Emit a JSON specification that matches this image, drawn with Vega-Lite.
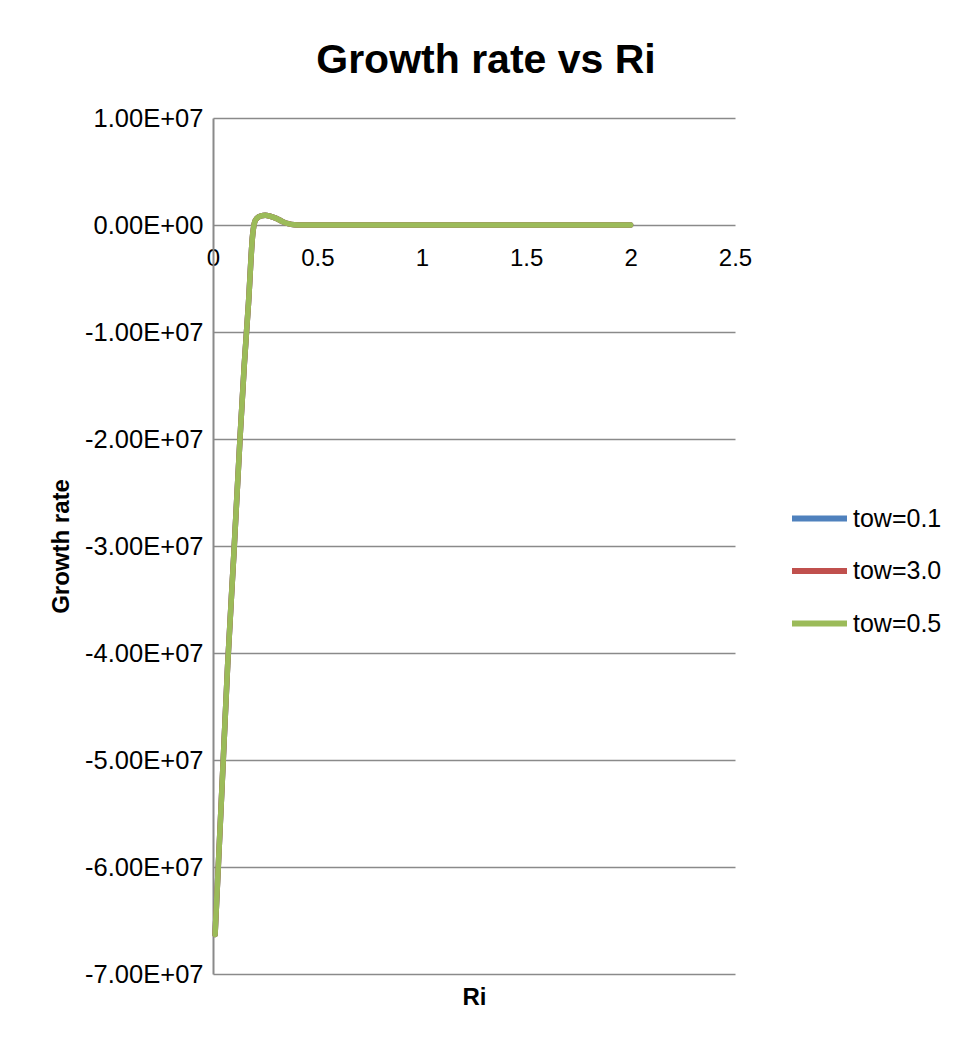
{
  "$schema": "https://vega.github.io/schema/vega-lite/v6.json",
  "width": 522,
  "height": 856,
  "autosize": {"type": "none"},
  "padding": {"left": 213, "top": 118, "right": 222, "bottom": 67},
  "background": "white",
  "config": {
    "font": "Liberation Sans",
    "view": {"stroke": null}
  },
  "title": {
    "text": "Growth rate vs Ri",
    "fontSize": 41,
    "fontWeight": "bold",
    "color": "black",
    "anchor": "middle",
    "offset": 24,
    "dx": 12
  },
  "data": {
    "values": [
      {"series": "tow=0.1", "Ri": 0.01, "growth": -66300000},
      {"series": "tow=0.1", "Ri": 0.03, "growth": -58000000},
      {"series": "tow=0.1", "Ri": 0.05, "growth": -49600000},
      {"series": "tow=0.1", "Ri": 0.07, "growth": -41200000},
      {"series": "tow=0.1", "Ri": 0.1, "growth": -30700000},
      {"series": "tow=0.1", "Ri": 0.13, "growth": -19700000},
      {"series": "tow=0.1", "Ri": 0.15, "growth": -13000000},
      {"series": "tow=0.1", "Ri": 0.17, "growth": -7300000},
      {"series": "tow=0.1", "Ri": 0.19, "growth": -900000},
      {"series": "tow=0.1", "Ri": 0.2, "growth": 300000},
      {"series": "tow=0.1", "Ri": 0.21, "growth": 620000},
      {"series": "tow=0.1", "Ri": 0.23, "growth": 850000},
      {"series": "tow=0.1", "Ri": 0.25, "growth": 900000},
      {"series": "tow=0.1", "Ri": 0.27, "growth": 840000},
      {"series": "tow=0.1", "Ri": 0.3, "growth": 640000},
      {"series": "tow=0.1", "Ri": 0.33, "growth": 350000},
      {"series": "tow=0.1", "Ri": 0.36, "growth": 120000},
      {"series": "tow=0.1", "Ri": 0.39, "growth": 20000},
      {"series": "tow=0.1", "Ri": 0.42, "growth": 0},
      {"series": "tow=0.1", "Ri": 0.5, "growth": 0},
      {"series": "tow=0.1", "Ri": 1.0, "growth": 0},
      {"series": "tow=0.1", "Ri": 1.5, "growth": 0},
      {"series": "tow=0.1", "Ri": 2.0, "growth": 0},
      {"series": "tow=3.0", "Ri": 0.01, "growth": -66300000},
      {"series": "tow=3.0", "Ri": 0.03, "growth": -58000000},
      {"series": "tow=3.0", "Ri": 0.05, "growth": -49600000},
      {"series": "tow=3.0", "Ri": 0.07, "growth": -41200000},
      {"series": "tow=3.0", "Ri": 0.1, "growth": -30700000},
      {"series": "tow=3.0", "Ri": 0.13, "growth": -19700000},
      {"series": "tow=3.0", "Ri": 0.15, "growth": -13000000},
      {"series": "tow=3.0", "Ri": 0.17, "growth": -7300000},
      {"series": "tow=3.0", "Ri": 0.19, "growth": -900000},
      {"series": "tow=3.0", "Ri": 0.2, "growth": 300000},
      {"series": "tow=3.0", "Ri": 0.21, "growth": 620000},
      {"series": "tow=3.0", "Ri": 0.23, "growth": 850000},
      {"series": "tow=3.0", "Ri": 0.25, "growth": 900000},
      {"series": "tow=3.0", "Ri": 0.27, "growth": 840000},
      {"series": "tow=3.0", "Ri": 0.3, "growth": 640000},
      {"series": "tow=3.0", "Ri": 0.33, "growth": 350000},
      {"series": "tow=3.0", "Ri": 0.36, "growth": 120000},
      {"series": "tow=3.0", "Ri": 0.39, "growth": 20000},
      {"series": "tow=3.0", "Ri": 0.42, "growth": 0},
      {"series": "tow=3.0", "Ri": 0.5, "growth": 0},
      {"series": "tow=3.0", "Ri": 1.0, "growth": 0},
      {"series": "tow=3.0", "Ri": 1.5, "growth": 0},
      {"series": "tow=3.0", "Ri": 2.0, "growth": 0},
      {"series": "tow=0.5", "Ri": 0.01, "growth": -66300000},
      {"series": "tow=0.5", "Ri": 0.03, "growth": -58000000},
      {"series": "tow=0.5", "Ri": 0.05, "growth": -49600000},
      {"series": "tow=0.5", "Ri": 0.07, "growth": -41200000},
      {"series": "tow=0.5", "Ri": 0.1, "growth": -30700000},
      {"series": "tow=0.5", "Ri": 0.13, "growth": -19700000},
      {"series": "tow=0.5", "Ri": 0.15, "growth": -13000000},
      {"series": "tow=0.5", "Ri": 0.17, "growth": -7300000},
      {"series": "tow=0.5", "Ri": 0.19, "growth": -900000},
      {"series": "tow=0.5", "Ri": 0.2, "growth": 300000},
      {"series": "tow=0.5", "Ri": 0.21, "growth": 620000},
      {"series": "tow=0.5", "Ri": 0.23, "growth": 850000},
      {"series": "tow=0.5", "Ri": 0.25, "growth": 900000},
      {"series": "tow=0.5", "Ri": 0.27, "growth": 840000},
      {"series": "tow=0.5", "Ri": 0.3, "growth": 640000},
      {"series": "tow=0.5", "Ri": 0.33, "growth": 350000},
      {"series": "tow=0.5", "Ri": 0.36, "growth": 120000},
      {"series": "tow=0.5", "Ri": 0.39, "growth": 20000},
      {"series": "tow=0.5", "Ri": 0.42, "growth": 0},
      {"series": "tow=0.5", "Ri": 0.5, "growth": 0},
      {"series": "tow=0.5", "Ri": 1.0, "growth": 0},
      {"series": "tow=0.5", "Ri": 1.5, "growth": 0},
      {"series": "tow=0.5", "Ri": 2.0, "growth": 0}
    ]
  },
  "mark": {
    "type": "line",
    "strokeWidth": 5.5,
    "strokeCap": "round",
    "strokeJoin": "round",
    "interpolate": "monotone",
    "clip": false
  },
  "encoding": {
    "x": {
      "field": "Ri",
      "type": "quantitative",
      "scale": {"domain": [0, 2.5], "nice": false, "zero": false},
      "axis": {
        "title": "Ri",
        "titleFontSize": 24,
        "titleFontWeight": "bold",
        "titleColor": "black",
        "titleY": 772,
        "titleBaseline": "middle",
        "values": [0, 0.5, 1, 1.5, 2, 2.5],
        "labelExpr": "format(datum.value, '~g')",
        "labelFontSize": 24,
        "labelColor": "black",
        "labelPadding": 21,
        "labelFlush": false,
        "labelOverlap": false,
        "ticks": false,
        "grid": false,
        "domain": false,
        "offset": -749
      }
    },
    "y": {
      "field": "growth",
      "type": "quantitative",
      "scale": {"domain": [-70000000, 10000000], "nice": false, "zero": false},
      "axis": {
        "title": "Growth rate",
        "titleFontSize": 24,
        "titleFontWeight": "bold",
        "titleColor": "black",
        "titlePadding": 11,
        "values": [-70000000, -60000000, -50000000, -40000000, -30000000, -20000000, -10000000, 0, 10000000],
        "labelExpr": "datum.value == 0 ? '0.00E+00' : (datum.value < 0 ? '-' : '') + format(abs(datum.value) / 10000000, '.2f') + 'E+07'",
        "labelFontSize": 25.5,
        "labelColor": "black",
        "labelPadding": 10,
        "labelOverlap": false,
        "ticks": false,
        "domain": true,
        "domainColor": "#8a8a8a",
        "domainWidth": 2,
        "grid": true,
        "gridColor": "#8a8a8a",
        "gridWidth": 1.5
      }
    },
    "color": {
      "field": "series",
      "type": "nominal",
      "scale": {
        "domain": ["tow=0.1", "tow=3.0", "tow=0.5"],
        "range": ["#4F81BD", "#C0504D", "#9BBB59"]
      },
      "legend": {
        "title": null,
        "orient": "none",
        "legendX": 576,
        "legendY": 370,
        "symbolType": "stroke",
        "symbolSize": 3025,
        "symbolStrokeWidth": 6,
        "labelFontSize": 25,
        "labelColor": "black",
        "labelOffset": 3,
        "rowPadding": 8.5
      }
    },
    "order": {"field": "Ri", "type": "quantitative"}
  }
}
